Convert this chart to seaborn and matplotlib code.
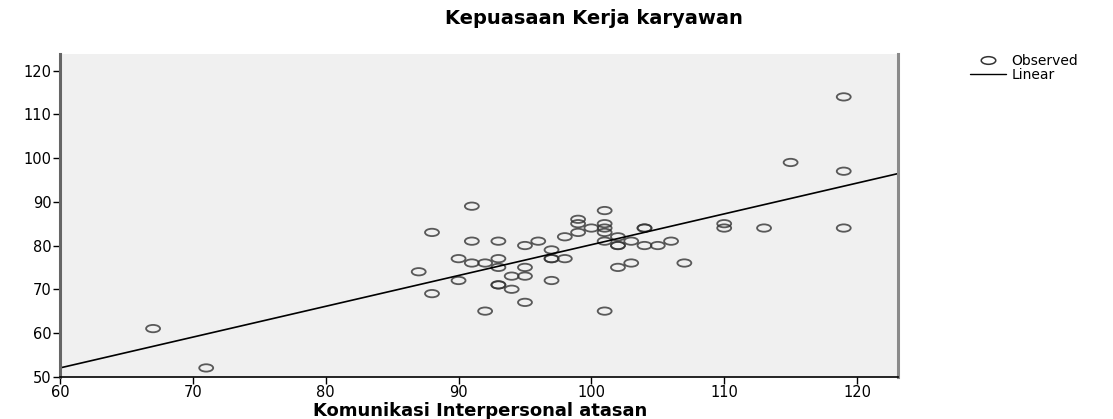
import numpy as np
import pandas as pd
import seaborn as sns
import matplotlib.pyplot as plt
from matplotlib.markers import MarkerStyle
from matplotlib.transforms import Affine2D
from matplotlib.lines import Line2D

# data
komunikasi = [67, 71,
              91, 88, 91, 93, 95, 96,
              90, 91, 92, 93, 93, 97, 97, 97,
              87, 95, 94, 95, 90, 97, 93, 93, 94, 88, 95, 92,
              101, 99, 99, 101, 100, 101, 101, 99, 98, 104, 104, 102, 101, 102, 102,
              103, 104, 105, 106, 110, 110, 98, 103, 102, 107, 101,
              119, 115, 119, 113, 119]
kepuasan = [61, 52,
            89, 83, 81, 81, 80, 81,
            77, 76, 76, 77, 75, 79, 77, 77,
            74, 75, 73, 73, 72, 72, 71, 71, 70, 69, 67, 65,
            88, 86, 85, 85, 84, 84, 83, 83, 82, 84, 84, 82, 81, 80, 80,
            81, 80, 80, 81, 85, 84, 77, 76, 75, 76, 65,
            114, 99, 97, 84, 84]

df = pd.DataFrame({'Komunikasi': komunikasi, 'Kepuasan': kepuasan})

sns.set_style('white')
plt.rcParams['font.family'] = ['DejaVu Sans']
plt.rcParams['text.color'] = 'black'
plt.rcParams['xtick.color'] = 'black'
plt.rcParams['ytick.color'] = 'black'
plt.rcParams['axes.labelcolor'] = 'black'

fig = plt.figure(figsize=(11.13, 4.19), dpi=100)
ax = fig.add_axes([0.054, 0.101, 0.753, 0.770])
ax.set_facecolor('#f0f0f0')
ax.set_xlim(60, 123.1)
ax.set_ylim(50, 123.8)

# stretched open circle like the SPSS output
oval = MarkerStyle('o', transform=Affine2D().scale(1.9, 1.0))

sns.regplot(data=df, x='Komunikasi', y='Kepuasan', ax=ax, ci=None,
            truncate=False, marker=oval,
            scatter_kws={'s': 28, 'facecolors': 'none', 'edgecolors': '#333333',
                         'linewidths': 1.3},
            line_kws={'color': 'black', 'linewidth': 1.2})

ax.set_xticks(range(60, 121, 10))
ax.set_yticks(range(50, 121, 10))
ax.tick_params(axis='both', bottom=True, left=True, length=5, width=1,
               color='black', labelcolor='black', labelsize=10.5,
               direction='out', pad=1)

ax.spines['top'].set_visible(False)
ax.spines['left'].set_color('#666666')
ax.spines['left'].set_linewidth(2.2)
ax.spines['right'].set_color('#8a8a8a')
ax.spines['right'].set_linewidth(2.2)
ax.spines['bottom'].set_color('black')
ax.spines['bottom'].set_linewidth(1.2)

ax.set_xlabel('')
ax.set_ylabel('')
fig.text(0.431, 0.018, 'Komunikasi Interpersonal atasan', ha='center',
         va='center', fontsize=13, fontweight='bold')

fig.text(0.534, 0.957, 'Kepuasaan Kerja karyawan', ha='center', va='center',
         fontsize=14, fontweight='bold')

handles = [Line2D([], [], linestyle='none', marker=oval, markersize=5.5,
                  markerfacecolor='none', markeredgecolor='#333333',
                  markeredgewidth=1.1),
           Line2D([], [], color='black', linewidth=1.0)]
fig.legend(handles, ['Observed', 'Linear'], loc='upper left',
           bbox_to_anchor=(0.8715, 0.872), frameon=False, fontsize=10,
           handlelength=2.6, handletextpad=0.4, labelspacing=0.0,
           borderaxespad=0, borderpad=0)

fig.savefig('out.png', dpi=100)
